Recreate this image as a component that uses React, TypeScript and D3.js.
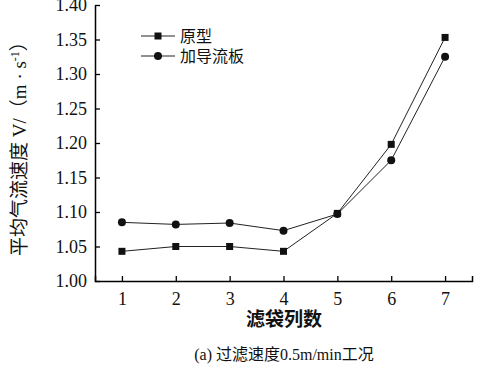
import React, { useEffect, useRef } from "react";
import * as d3 from "d3";

const columns = [1, 2, 3, 4, 5, 6, 7];
const original = [1.043, 1.05, 1.05, 1.043, 1.098, 1.198, 1.353];
const withBaffle = [1.085, 1.082, 1.084, 1.073, 1.097, 1.175, 1.325];
const yTicks = [1.0, 1.05, 1.1, 1.15, 1.2, 1.25, 1.3, 1.35, 1.4];
const seriesNames = ["原型", "加导流板"];

const W = 484;
const H = 369;
const numFont = "Liberation Serif, DejaVu Serif, serif";
const cjkFont = "Liberation Serif, Noto Sans CJK SC, serif";

const App = () => {
  const ref = useRef<SVGSVGElement>(null);

  useEffect(() => {
    const svg = d3.select(ref.current);
    svg.selectAll("*").remove();

    const x = d3.scaleLinear().domain([0.5, 7.5]).range([95, 472]);
    const y = d3.scaleLinear().domain([1.0, 1.4]).range([281, 5]);

    // axes
    const xAxis = svg
      .append("g")
      .attr("transform", `translate(0,${y(1.0)})`)
      .call(
        d3
          .axisBottom(x)
          .tickValues(columns)
          .tickFormat(d3.format("d"))
          .tickSizeInner(-5)
          .tickSizeOuter(-5)
          .tickPadding(11)
      );
    xAxis.attr("font-family", null).style("font-family", numFont);
    xAxis.select(".domain").attr("stroke-width", 1.5);
    xAxis.selectAll(".tick line").attr("stroke-width", 1.3);
    xAxis
      .selectAll("text")
      .style("font-family", numFont)
      .attr("font-size", 18)
      .attr("fill", "#111");

    const yAxis = svg
      .append("g")
      .attr("transform", `translate(${x(0.5)},0)`)
      .call(
        d3
          .axisLeft(y)
          .tickValues(yTicks)
          .tickFormat(d3.format(".2f"))
          .tickSizeInner(-5)
          .tickSizeOuter(0)
          .tickPadding(8)
      );
    yAxis.attr("font-family", null).style("font-family", numFont);
    yAxis.select(".domain").attr("stroke-width", 1.5);
    yAxis.selectAll(".tick line").attr("stroke-width", 1.3);
    yAxis
      .selectAll("text")
      .style("font-family", numFont)
      .attr("font-size", 18)
      .attr("fill", "#111");

    const line = d3
      .line<number>()
      .x((_, i) => x(columns[i]))
      .y((d) => y(d));

    const drawSeries = (vals: number[], shape: "square" | "circle") => {
      svg
        .append("path")
        .datum(vals)
        .attr("d", line)
        .attr("fill", "none")
        .attr("stroke", "#222")
        .attr("stroke-width", 1);
      const g = svg.append("g");
      if (shape === "square") {
        g.selectAll("rect")
          .data(vals)
          .join("rect")
          .attr("x", (_, i) => x(columns[i]) - 3.5)
          .attr("y", (d) => y(d) - 3.5)
          .attr("width", 7)
          .attr("height", 7)
          .attr("fill", "#111");
      } else {
        g.selectAll("circle")
          .data(vals)
          .join("circle")
          .attr("cx", (_, i) => x(columns[i]))
          .attr("cy", (d) => y(d))
          .attr("r", 4)
          .attr("fill", "#111");
      }
    };
    drawSeries(original, "square");
    drawSeries(withBaffle, "circle");

    // legend
    const legend = svg.append("g").attr("transform", "translate(141,36)");
    seriesNames.forEach((name, i) => {
      const row = legend.append("g").attr("transform", `translate(0,${i * 20})`);
      row.append("line").attr("x1", 0).attr("x2", 34).attr("stroke", "#222");
      if (i === 0) {
        row.append("rect").attr("x", 13.5).attr("y", -3.5).attr("width", 7).attr("height", 7).attr("fill", "#111");
      } else {
        row.append("circle").attr("cx", 17).attr("cy", 0).attr("r", 4).attr("fill", "#111");
      }
      row
        .append("text")
        .attr("x", 39)
        .attr("y", 0)
        .attr("dy", "0.35em")
        .style("font-family", cjkFont)
        .attr("font-size", 16)
        .attr("fill", "#111")
        .text(name);
    });

    // y title
    const yTitle = svg
      .append("text")
      .attr("transform", `translate(26,${144}) rotate(-90)`)
      .attr("text-anchor", "middle")
      .style("font-family", cjkFont)
      .attr("font-size", 19)
      .attr("fill", "#111");
    yTitle.append("tspan").text("平均气流速度 V/（m · s");
    yTitle.append("tspan").attr("dy", -7).attr("font-size", 12).text("-1");
    yTitle.append("tspan").attr("dy", 7).text("）");

    // x title
    svg
      .append("text")
      .attr("x", 284)
      .attr("y", 326)
      .attr("text-anchor", "middle")
      .style("font-family", cjkFont)
      .attr("font-size", 19)
      .attr("font-weight", "bold")
      .attr("fill", "#111")
      .text("滤袋列数");

    // caption
    svg
      .append("text")
      .attr("x", 284)
      .attr("y", 360)
      .attr("text-anchor", "middle")
      .style("font-family", cjkFont)
      .attr("font-size", 16)
      .attr("fill", "#111")
      .text("(a) 过滤速度0.5m/min工况");
  }, []);

  return (
    <svg
      ref={ref}
      width={W}
      height={H}
      style={{ position: "absolute", left: 0, top: 0, background: "#fff" }}
    />
  );
};

export default App;
